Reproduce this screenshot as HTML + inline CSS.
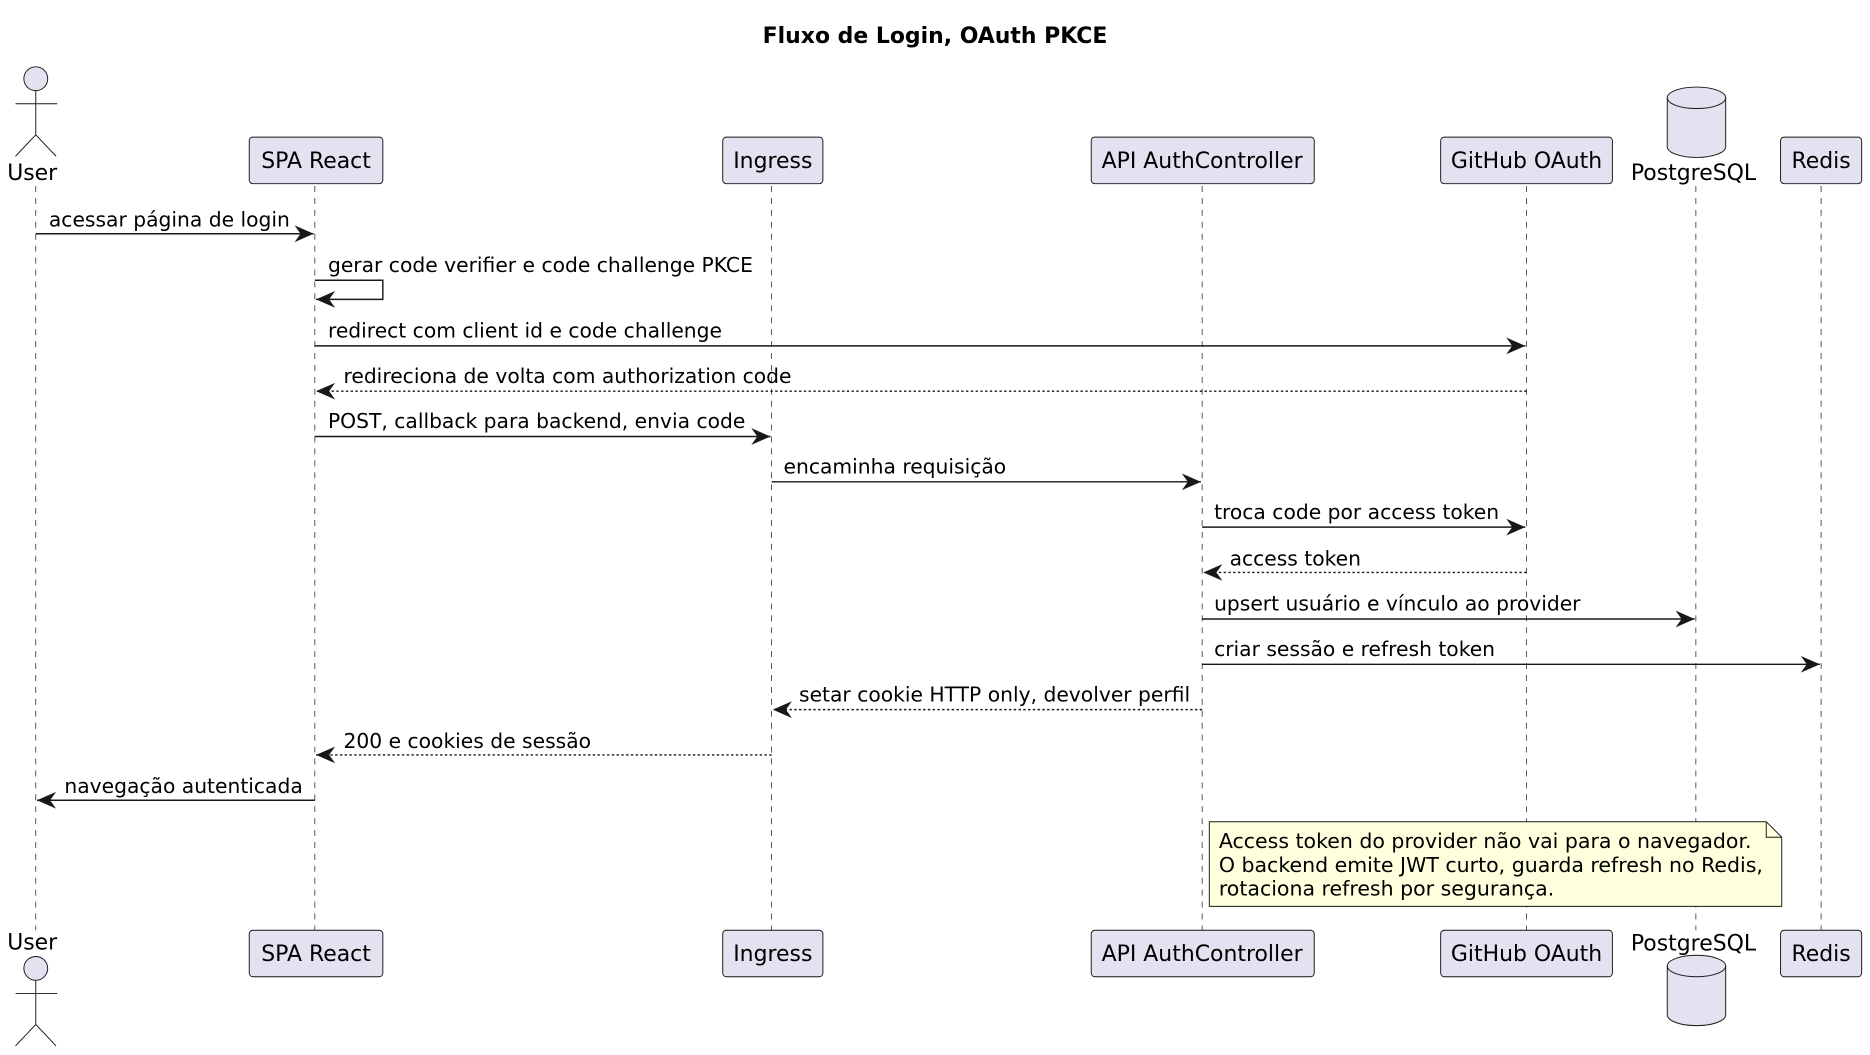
<!DOCTYPE html>
<html><head><meta charset="utf-8"><style>html,body{margin:0;padding:0;background:#fff}svg{display:block}</style></head>
<body>
<svg width="1870" height="1055" viewBox="0 0 1568 884.6" xmlns="http://www.w3.org/2000/svg" font-family="'DejaVu Sans','Liberation Sans',sans-serif">
<defs>
<marker id="a" markerWidth="18" markerHeight="16" refX="17" refY="8" orient="auto" markerUnits="userSpaceOnUse">
<path d="M1,1 L17,8 L1,15 L6,8 Z" fill="#181818"/>
</marker>
</defs>
<rect width="1568" height="884.6" fill="#fff"/>
<text x="784" y="36" text-anchor="middle" font-size="18.4" font-weight="bold" fill="#000">Fluxo de Login, OAuth PKCE</text>
<g stroke="#181818" stroke-width="0.6" stroke-dasharray="5,5">
<line x1="30" y1="156" x2="30" y2="780"/>
<line x1="264" y1="156" x2="264" y2="780"/>
<line x1="647" y1="156" x2="647" y2="780"/>
<line x1="1008" y1="156" x2="1008" y2="780"/>
<line x1="1280" y1="156" x2="1280" y2="780"/>
<line x1="1422" y1="156" x2="1422" y2="780"/>
<line x1="1527" y1="156" x2="1527" y2="780"/>
</g>
<g fill="#E2E2F0" stroke="#181818" stroke-width="0.8">
<rect x="209" y="115" width="112" height="39" rx="3"/>
<rect x="606" y="115" width="84" height="39" rx="3"/>
<rect x="915" y="115" width="187" height="39" rx="3"/>
<rect x="1208" y="115" width="144" height="39" rx="3"/>
<rect x="1493" y="115" width="68" height="39" rx="3"/>
<rect x="209" y="780" width="112" height="39" rx="3"/>
<rect x="606" y="780" width="84" height="39" rx="3"/>
<rect x="915" y="780" width="187" height="39" rx="3"/>
<rect x="1208" y="780" width="144" height="39" rx="3"/>
<rect x="1493" y="780" width="68" height="39" rx="3"/>
<path d="M1398,82 a24.5,9 0 0 1 49,0 v41 a24.5,9 0 0 1 -49,0 Z"/>
<path d="M1398,82 a24.5,9 0 0 0 49,0" fill="none"/>
<path d="M1398,810 a24.5,9 0 0 1 49,0 v41 a24.5,9 0 0 1 -49,0 Z"/>
<path d="M1398,810 a24.5,9 0 0 0 49,0" fill="none"/>
<circle cx="30" cy="66" r="10"/>
<path d="M30,76 V113 M13,87 H48 M13,131 L30,113 L47,131" fill="none"/>
<circle cx="30" cy="812" r="10"/>
<path d="M30,822 V859 M13,833 H48 M13,877 L30,859 L47,877" fill="none"/>
</g>
<g font-size="18.4" fill="#000" text-anchor="middle">
<text x="265" y="141">SPA React</text>
<text x="648" y="141">Ingress</text>
<text x="1008" y="141">API AuthController</text>
<text x="1280" y="141">GitHub OAuth</text>
<text x="1527" y="141">Redis</text>
<text x="265" y="806">SPA React</text>
<text x="648" y="806">Ingress</text>
<text x="1008" y="806">API AuthController</text>
<text x="1280" y="806">GitHub OAuth</text>
<text x="1527" y="806">Redis</text>
<text x="1420" y="151">PostgreSQL</text>
<text x="1420" y="797">PostgreSQL</text>
<text x="27" y="151">User</text>
<text x="27" y="796">User</text>
</g>
<g stroke="#181818" stroke-width="1.2" fill="none" marker-end="url(#a)">
<line x1="30" y1="196" x2="263" y2="196"/>
<path d="M264,235 H321 V251 H265"/>
<line x1="264" y1="290" x2="1279" y2="290"/>
<line x1="1280" y1="328" x2="265" y2="328" stroke-dasharray="2,2"/>
<line x1="264" y1="366" x2="646" y2="366"/>
<line x1="647" y1="404" x2="1007" y2="404"/>
<line x1="1008" y1="442" x2="1279" y2="442"/>
<line x1="1280" y1="480" x2="1009" y2="480" stroke-dasharray="2,2"/>
<line x1="1008" y1="519" x2="1421" y2="519"/>
<line x1="1008" y1="557" x2="1526" y2="557"/>
<line x1="1008" y1="595" x2="648" y2="595" stroke-dasharray="2,2"/>
<line x1="647" y1="633" x2="265" y2="633" stroke-dasharray="2,2"/>
<line x1="264" y1="671" x2="31" y2="671"/>
</g>
<g font-size="17" fill="#000">
<text x="41" y="190">acessar página de login</text>
<text x="275" y="228">gerar code verifier e code challenge PKCE</text>
<text x="275" y="283">redirect com client id e code challenge</text>
<text x="288" y="321">redireciona de volta com authorization code</text>
<text x="275" y="359">POST, callback para backend, envia code</text>
<text x="657" y="397">encaminha requisição</text>
<text x="1018" y="435">troca code por access token</text>
<text x="1031" y="474">access token</text>
<text x="1018" y="512">upsert usuário e vínculo ao provider</text>
<text x="1018" y="550">criar sessão e refresh token</text>
<text x="670" y="588">setar cookie HTTP only, devolver perfil</text>
<text x="288" y="627">200 e cookies de sessão</text>
<text x="54" y="665">navegação autenticada</text>
</g>
<path d="M1014,689 H1481 L1494,702 V760 H1014 Z" fill="#FEFFDD" stroke="#181818" stroke-width="0.8"/>
<path d="M1481,689 V702 H1494" fill="none" stroke="#181818" stroke-width="0.8"/>
<g font-size="17.2" fill="#000">
<text x="1022" y="711">Access token do provider não vai para o navegador.</text>
<text x="1022" y="731">O backend emite JWT curto, guarda refresh no Redis,</text>
<text x="1022" y="751">rotaciona refresh por segurança.</text>
</g>
</svg>
</body></html>
